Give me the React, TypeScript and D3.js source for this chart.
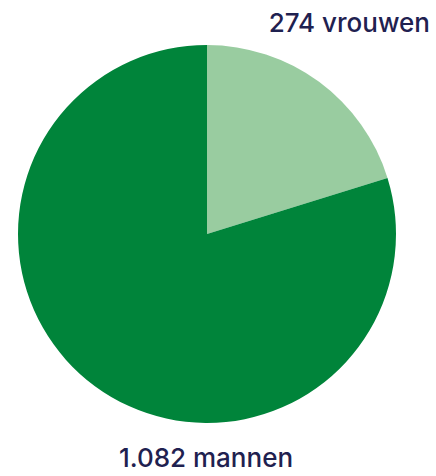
import React from "react";
import * as d3 from "d3";

const categories = ["vrouwen", "mannen"];
const values = [274, 1082];
const labels = ["274 vrouwen", "1.082 mannen"];
const colors = ["#99CCA0", "#00843A"];

export default function App() {
  const width = 436;
  const height = 476;
  const cx = 207;
  const cy = 234;
  const r = 189;
  const pie = d3.pie<number>().sort(null).value((d) => d);
  const arcs = pie(values);
  const arc = d3.arc<d3.PieArcDatum<number>>().innerRadius(0).outerRadius(r);
  return (
    <svg
      width={width}
      height={height}
      style={{ position: "absolute", left: 0, top: 0 }}
    >
      <g transform={`translate(${cx},${cy})`}>
        {arcs.map((a, i) => (
          <path key={categories[i]} d={arc(a) || ""} fill={colors[i]} />
        ))}
      </g>
      <text
        x={430}
        y={32}
        textAnchor="end"
        fontFamily="Inter, sans-serif"
        fontSize={26}
        fontWeight={500}
        fill="#1F2150"
      >
        {labels[0]}
      </text>
      <text
        x={206}
        y={467}
        textAnchor="middle"
        fontFamily="Inter, sans-serif"
        fontSize={26}
        fontWeight={500}
        fill="#1F2150"
      >
        {labels[1]}
      </text>
    </svg>
  );
}
